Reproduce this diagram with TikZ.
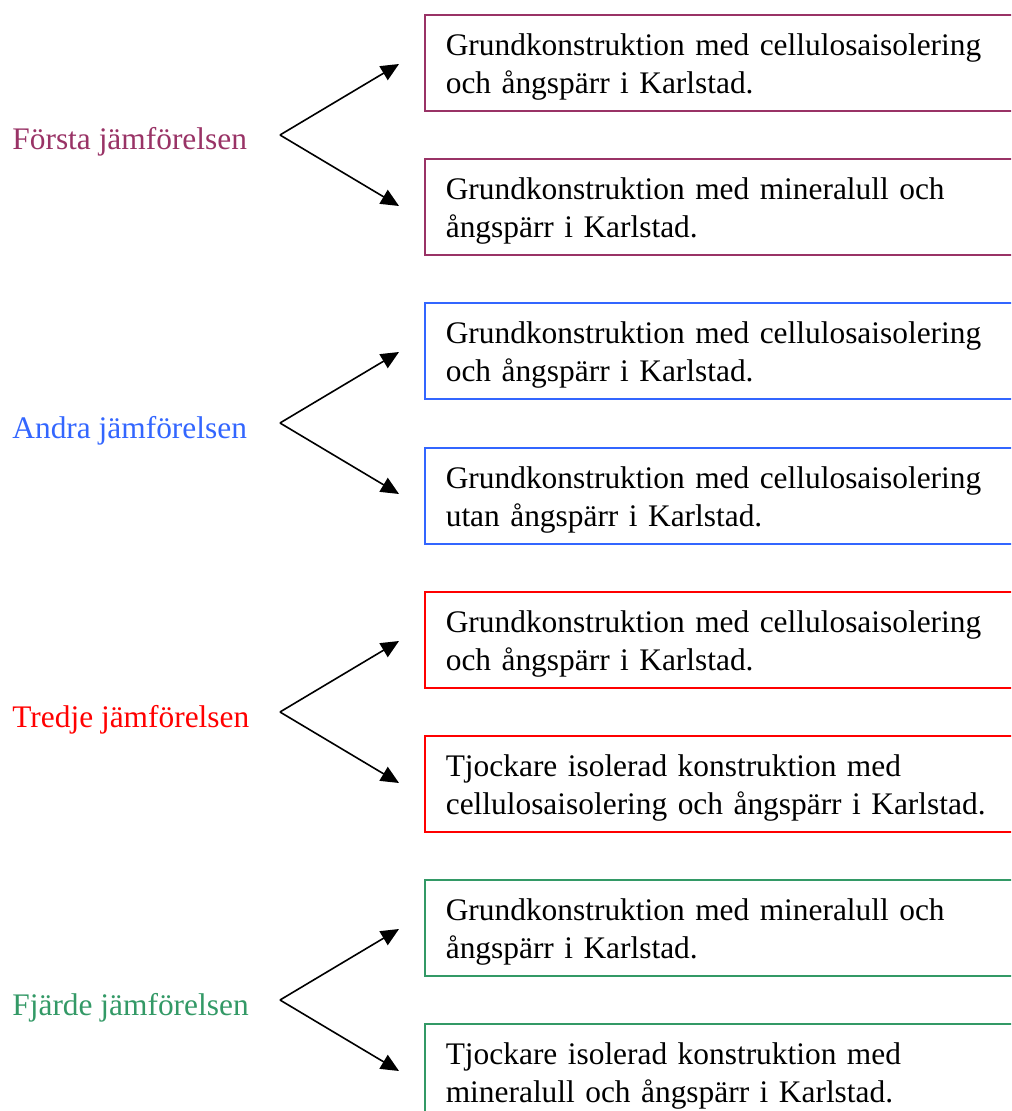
\documentclass[tikz,border=0pt]{standalone}
\usepackage{fontspec}
\setmainfont{Liberation Serif}
\usetikzlibrary{arrows.meta}
\definecolor{PLUM}{HTML}{993366}
\definecolor{BLUE}{HTML}{3366FF}
\definecolor{RED}{HTML}{FF0000}
\definecolor{GREEN}{HTML}{339966}
\definecolor{BLACK}{HTML}{000000}
\tikzset{
    cmpbox/.style={draw=#1, line width=0.8pt, anchor=north west, inner xsep=10.5pt, inner ysep=0pt,
        text width=290pt, align=left, text=BLACK, font=\fontsize{15.7}{19}\selectfont},
    cmplabel/.style={#1, anchor=base west, inner sep=0pt, font=\fontsize{15.7}{19}\selectfont},
    cmparrow/.style={BLACK, line width=0.8pt, -{Triangle[length=9pt,width=8pt]}}
}
\newcommand{\topline}{\rule{0pt}{20.5pt}}
\newcommand{\botline}{\rule[-8.5pt]{0pt}{8.5pt}}

\begin{document}
\begin{tikzpicture}[x=0.5pt, y=-0.5pt]
    \useasboundingbox (0,0) rectangle (1011,1111);
    \clip (0,0) rectangle (1011,1111);

    % first comparison
    \node[cmplabel=PLUM] (lab1) at (12,150) {Första jämförelsen};
    \node[cmpbox=PLUM] (box1a) at (424,14) {\topline Grundkonstruktion med cellulosaisolering\\och ångspärr i Karlstad.\botline};
    \node[cmpbox=PLUM] (box1b) at (424,158) {\topline Grundkonstruktion med mineralull och\\ångspärr i Karlstad.\botline};
    \coordinate (fork1) at (280,135);
    \coordinate (tip1a) at (399,64);
    \coordinate (tip1b) at (399,206);
    \draw[cmparrow] (fork1) -- (tip1a);
    \draw[cmparrow] (fork1) -- (tip1b);

    % second comparison
    \node[cmplabel=BLUE] (lab2) at (12,438) {Andra jämförelsen};
    \node[cmpbox=BLUE] (box2a) at (424,302) {\topline Grundkonstruktion med cellulosaisolering\\och ångspärr i Karlstad.\botline};
    \node[cmpbox=BLUE] (box2b) at (424,447) {\topline Grundkonstruktion med cellulosaisolering\\utan ångspärr i Karlstad.\botline};
    \coordinate (fork2) at (280,423);
    \coordinate (tip2a) at (399,352);
    \coordinate (tip2b) at (399,494);
    \draw[cmparrow] (fork2) -- (tip2a);
    \draw[cmparrow] (fork2) -- (tip2b);

    % third comparison
    \node[cmplabel=RED] (lab3) at (12,727) {Tredje jämförelsen};
    \node[cmpbox=RED] (box3a) at (424,591) {\topline Grundkonstruktion med cellulosaisolering\\och ångspärr i Karlstad.\botline};
    \node[cmpbox=RED] (box3b) at (424,735) {\topline Tjockare isolerad konstruktion med\\cellulosaisolering och ångspärr i Karlstad.\botline};
    \coordinate (fork3) at (280,712);
    \coordinate (tip3a) at (399,641);
    \coordinate (tip3b) at (399,783);
    \draw[cmparrow] (fork3) -- (tip3a);
    \draw[cmparrow] (fork3) -- (tip3b);

    % fourth comparison
    \node[cmplabel=GREEN] (lab4) at (12,1015) {Fjärde jämförelsen};
    \node[cmpbox=GREEN] (box4a) at (424,879) {\topline Grundkonstruktion med mineralull och\\ångspärr i Karlstad.\botline};
    \node[cmpbox=GREEN] (box4b) at (424,1023) {\topline Tjockare isolerad konstruktion med\\mineralull och ångspärr i Karlstad.\botline};
    \coordinate (fork4) at (280,1000);
    \coordinate (tip4a) at (399,929);
    \coordinate (tip4b) at (399,1071);
    \draw[cmparrow] (fork4) -- (tip4a);
    \draw[cmparrow] (fork4) -- (tip4b);
\end{tikzpicture}
\end{document}
